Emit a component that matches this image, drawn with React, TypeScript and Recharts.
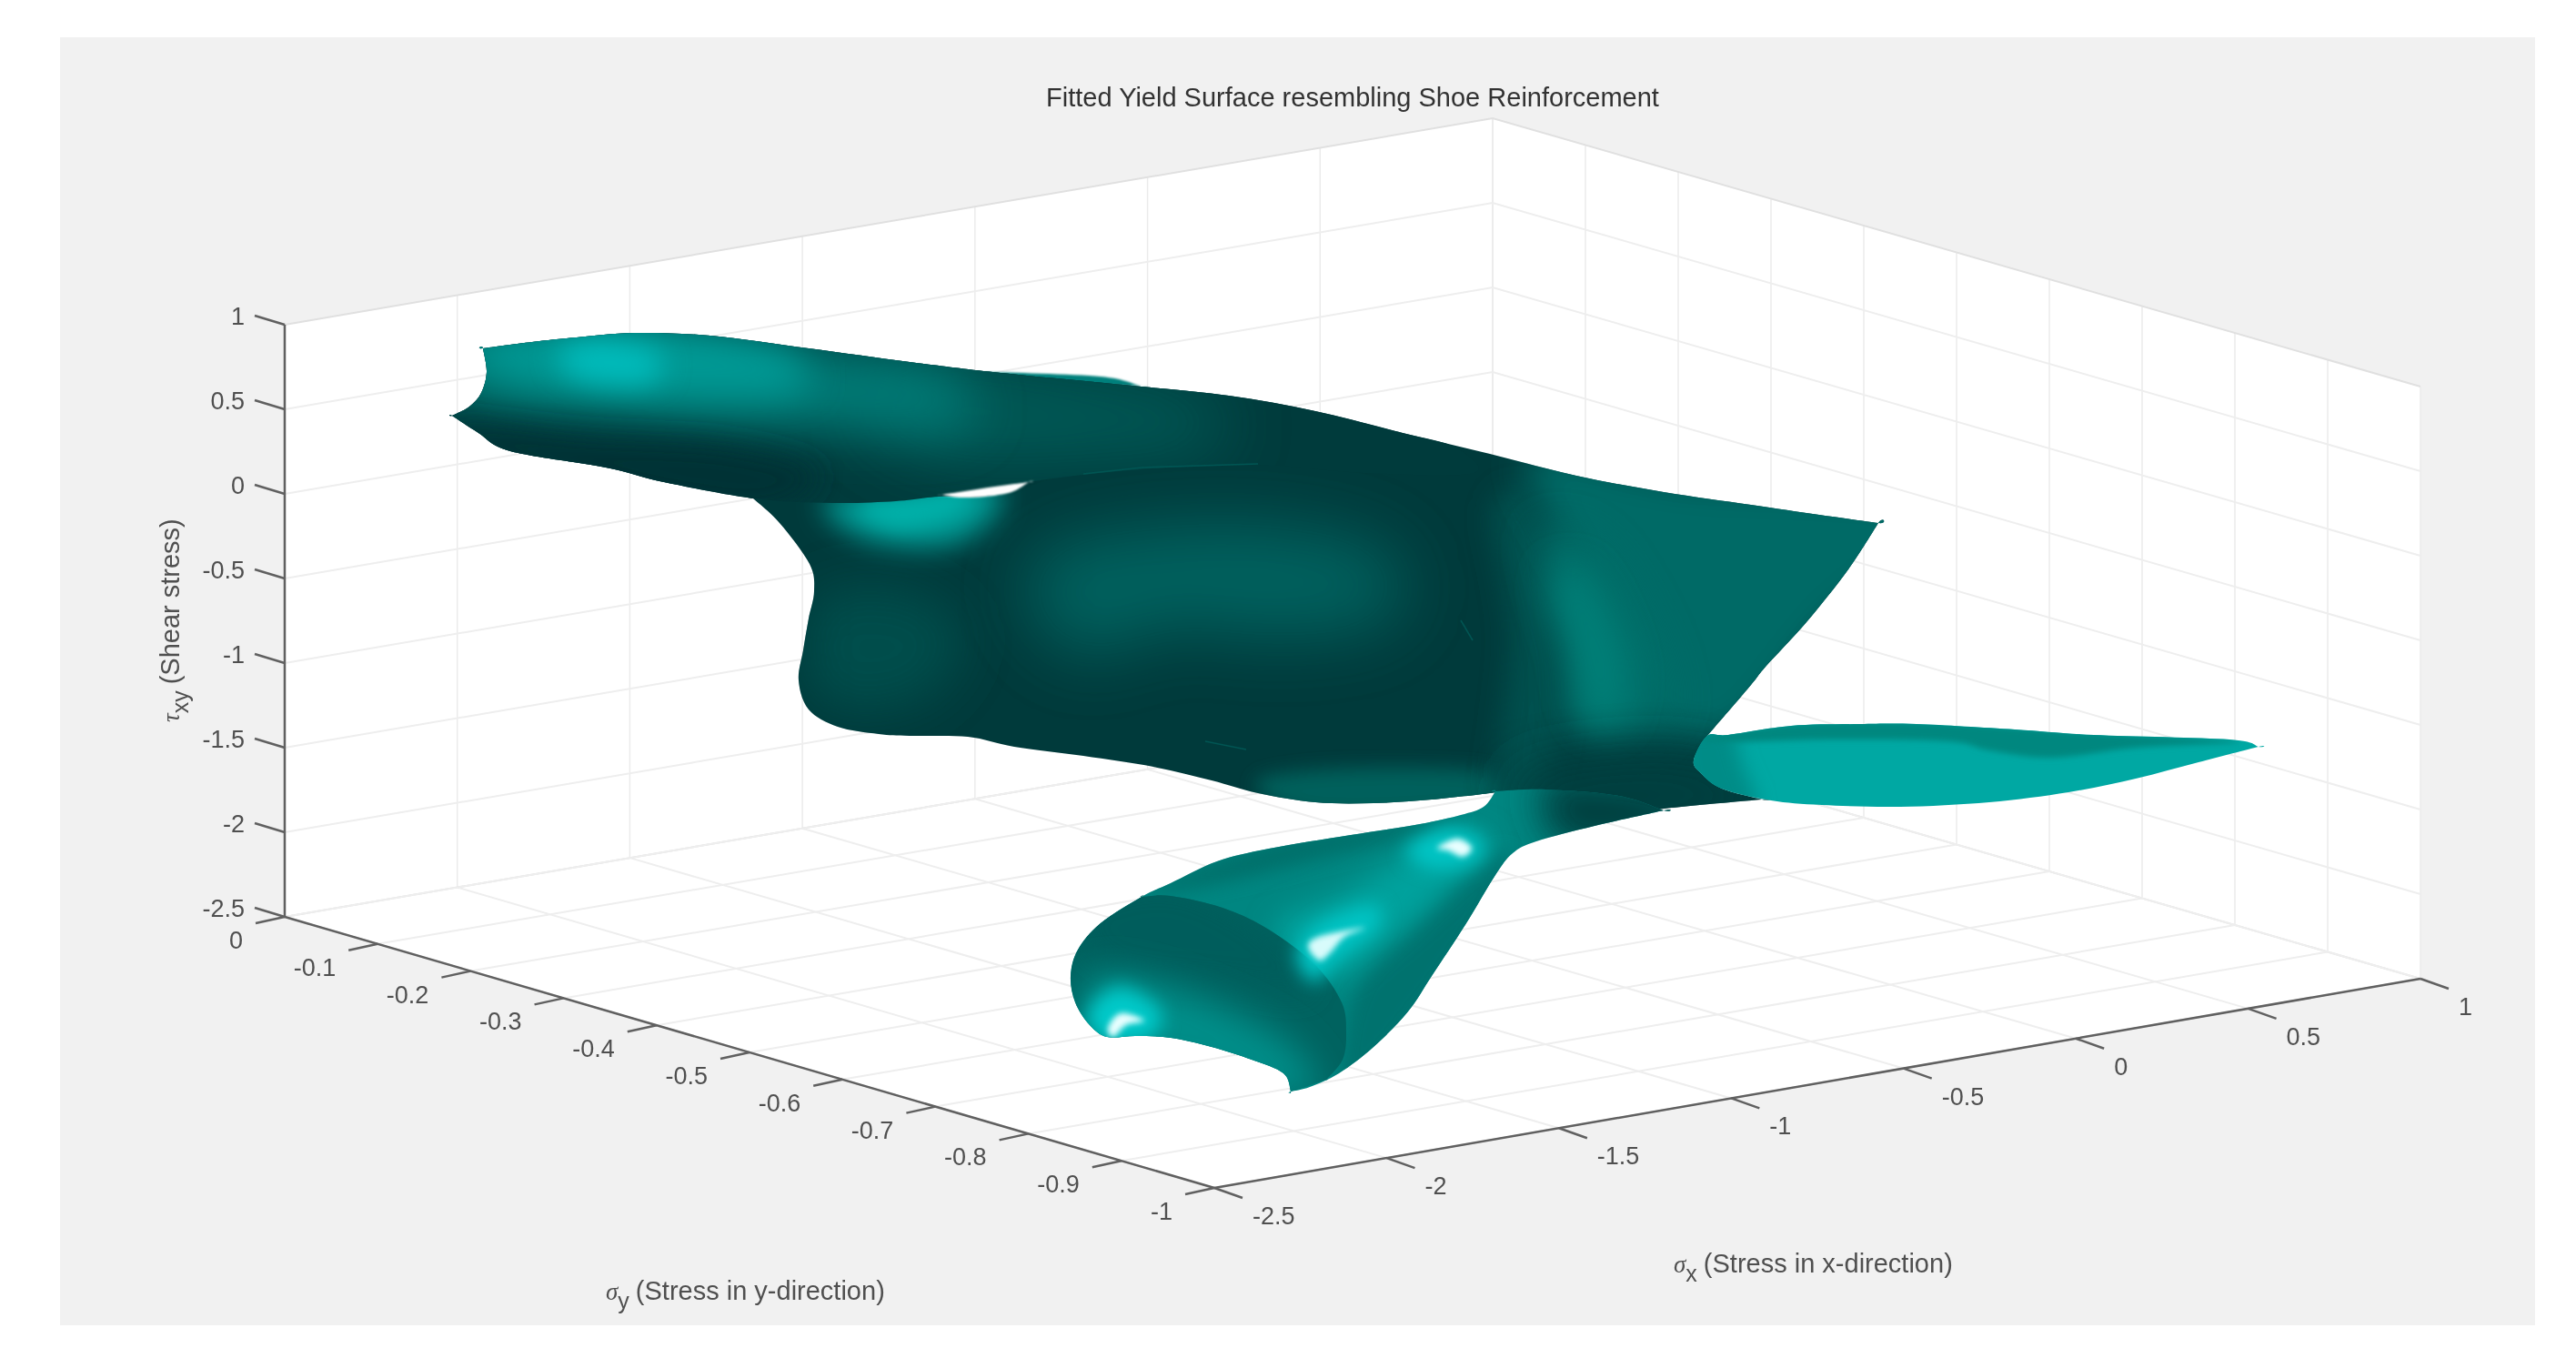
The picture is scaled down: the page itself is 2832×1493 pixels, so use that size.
import React from "react";
import { ScatterChart, Scatter, XAxis, YAxis } from "recharts";

// axis ticks as they read on the figure
const xTicks = [-2.5, -2, -1.5, -1, -0.5, 0, 0.5, 1];
const yTicks = [0, -0.1, -0.2, -0.3, -0.4, -0.5, -0.6, -0.7, -0.8, -0.9, -1];
const zTicks = [1, 0.5, 0, -0.5, -1, -1.5, -2, -2.5];

// the 3D box seen on the picture plane: floor corners, height of one tau unit
const floorLeft = [313, 1008];
const floorBack = [1641, 781];
const floorFront = [1335, 1306];
const floorRight = [2661, 1076];
const tauUnit = 186;

const mainOutline = [
  [531, 383], [531, 383], [585, 376], [634, 371], [698, 366], [781, 369], [889, 383], [1000, 398], [1100, 410], [1255, 425],
  [1351, 435], [1446, 452], [1542, 476], [1638, 499], [1733, 523], [1829, 541], [1925, 555], [2000, 566], [2065, 575], [2065, 575],
  [2032, 626], [1986, 684], [1941, 733], [1925, 753], [1877, 809], [1877, 809], [1862, 836], [1870, 850], [1893, 867], [1937, 879], [1937, 879],
  [1829, 889], [1760, 900], [1700, 905], [1670, 890], [1650, 875], [1644, 870], [1644, 870],
  [1638, 872], [1574, 879], [1510, 883], [1446, 882], [1383, 872], [1332, 858], [1268, 843], [1191, 831], [1115, 821], [1064, 810],
  [1000, 809], [966, 807], [921, 799], [889, 780], [878, 748], [883, 715], [889, 680], [895, 650], [890, 620], [857, 575], [828, 548], [828, 548],
  [730, 530], [666, 514], [561, 496], [526, 476], [497, 457], [497, 457], [516, 447], [529, 432], [535, 409],
];
const lobeOutline = [
  [531, 383], [531, 383], [585, 376], [634, 371], [698, 366], [781, 369], [889, 383], [1000, 398], [1100, 410], [1255, 425],
  [1351, 435], [1446, 452], [1542, 476], [1600, 492], [1620, 520], [1500, 520], [1383, 511], [1255, 516], [1131, 530], [1085, 545],
  [1032, 546], [985, 551], [915, 553], [828, 548], [730, 530], [666, 514], [561, 496], [526, 476], [497, 457], [497, 457],
  [516, 447], [529, 432], [535, 409],
];
const backBand = [[1083, 411], [1083, 409], [1210, 414], [1255, 425], [1255, 425], [1190, 422], [1120, 416]];
const slit = [[1035, 544], [1035, 544], [1080, 537], [1131, 530], [1131, 530], [1112, 541], [1083, 546], [1055, 547]];
const wingOutline = [
  [1862, 836], [1877, 809], [1900, 808], [1969, 798], [2044, 796], [2107, 796], [2215, 802], [2302, 808], [2451, 813], [2483, 821], [2483, 821],
  [2417, 838], [2348, 856], [2274, 871], [2187, 882], [2089, 887], [2003, 885], [1947, 880], [1893, 867], [1870, 850],
];
const wingBand = [
  [1870, 812], [1969, 796], [2107, 794], [2302, 806], [2462, 815], [2348, 822], [2256, 833], [2187, 825], [2142, 815], [2015, 813], [1900, 816],
];
const wingLeft = [[1850, 800], [1900, 800], [1915, 840], [1930, 890], [1860, 880]];
const bulbOutline = [
  [1255, 986], [1287, 971], [1338, 947], [1395, 933], [1485, 918], [1561, 906], [1606, 896], [1631, 887], [1644, 870], [1644, 870],
  [1700, 868], [1780, 875], [1829, 891], [1829, 891], [1753, 908], [1689, 925], [1663, 938], [1644, 962], [1612, 1015], [1574, 1073], [1548, 1112], [1510, 1151],
  [1472, 1180], [1440, 1195], [1419, 1200], [1419, 1200], [1411, 1180], [1376, 1165], [1332, 1151], [1287, 1141], [1249, 1139], [1217, 1140],
  [1198, 1127], [1182, 1102], [1177, 1073], [1185, 1044], [1210, 1015],
];
const bulbFace = [
  [1255, 986], [1255, 986], [1287, 985], [1344, 998], [1395, 1022], [1446, 1061], [1475, 1102], [1480, 1136], [1476, 1165], [1458, 1187], [1458, 1187],
  [1419, 1200], [1419, 1200], [1411, 1180], [1376, 1165], [1332, 1151], [1287, 1141], [1249, 1139], [1217, 1140],
  [1198, 1127], [1182, 1102], [1177, 1073], [1185, 1044], [1210, 1015],
];

// shading patches on the body
const bodyGlowMiddle = [[1160, 600], [1350, 575], [1520, 605], [1530, 680], [1400, 700], [1290, 690], [1190, 720], [1130, 660]];
const bodyGlowLeft = [[895, 660], [1000, 650], [1060, 700], [1010, 770], [900, 770]];
const bodyHighlight = [[905, 550], [1000, 535], [1090, 528], [1095, 565], [1040, 600], [950, 592]];
const bodyHighlightCore = [[945, 555], [1010, 545], [1065, 538], [1050, 565], [985, 580]];
const bodyFoot = [[1380, 860], [1480, 845], [1640, 850], [1640, 885], [1450, 895]];
const frontEdge = [[1640, 560], [1690, 560], [1715, 780], [1690, 880], [1645, 870], [1660, 700]];
const stripeOuter = [[1690, 590], [1760, 600], [1830, 720], [1830, 800], [1730, 810], [1720, 720]];
const stripeCore = [[1705, 640], [1740, 630], [1785, 720], [1780, 790], [1745, 790], [1725, 710]];
const sheetRight = [[1680, 500], [1850, 525], [2130, 555], [2010, 690], [1900, 810], [1800, 780], [1740, 640]];
const neckShade = [[1680, 850], [1860, 835], [1940, 890], [1760, 920], [1680, 900]];

// shading patches on the upper lobe
const lobeMid = [[1000, 395], [1200, 415], [1330, 440], [1340, 490], [1200, 505], [1040, 505], [950, 460]];
const lobeTeal = [[490, 375], [700, 362], [900, 380], [1040, 410], [1060, 470], [850, 470], [640, 455], [500, 440]];
const lobeBright = [[510, 375], [700, 360], [860, 385], [880, 430], [740, 435], [570, 420]];
const lobeHighlight = [[615, 385], [665, 375], [725, 390], [715, 420], [655, 420], [625, 410]];
const lobeDark = [[500, 465], [640, 480], [800, 490], [900, 520], [830, 560], [650, 530], [520, 495]];

// shading patches on the bulb
const skinRidge = [[1400, 1020], [1480, 980], [1590, 920], [1640, 925], [1600, 970], [1520, 1040], [1460, 1075]];
const skinTop = [[1255, 980], [1400, 925], [1560, 900], [1600, 905], [1430, 950], [1320, 975]];
const skinLower = [[1490, 1090], [1560, 1010], [1640, 940], [1660, 960], [1580, 1090], [1480, 1200]];
const neckDark = [[1710, 855], [1850, 870], [1850, 920], [1730, 930], [1695, 895]];
const faceTop = [[1190, 1000], [1290, 975], [1400, 1030], [1440, 1090], [1350, 1080], [1220, 1060]];
const faceLight = [[1200, 1075], [1300, 1090], [1420, 1150], [1440, 1210], [1300, 1170], [1200, 1150]];
const haloLeft = [[1195, 1115], [1230, 1085], [1275, 1110], [1265, 1140], [1215, 1145]];
const coreLeft = [[1218, 1130], [1232, 1114], [1258, 1122], [1238, 1127], [1224, 1140]];
const haloMiddle = [[1425, 1050], [1450, 1015], [1510, 995], [1515, 1020], [1470, 1055], [1445, 1080]];
const coreMiddle = [[1438, 1040], [1452, 1029], [1500, 1020], [1478, 1030], [1462, 1048], [1450, 1056]];
const haloNeck = [[1545, 935], [1590, 910], [1630, 925], [1620, 948], [1575, 955]];
const coreNeck = [[1580, 932], [1602, 922], [1618, 932], [1608, 942], [1592, 935]];
const creases = [
  [[1191, 521], [1255, 514], [1383, 510]],
  [[1606, 682], [1619, 704]],
  [[1325, 815], [1370, 824]],
];

const blurLevels = [1, 3, 6, 10, 15, 20, 28, 38];
const tickColor = "#505050";
const gridColor = "#eeeeee";
const wallColor = "#ebebeb";
const edgeColor = "#e0e0e0";
const axisColor = "#606060";

const lerp = (a: number, b: number, t: number) => a + (b - a) * t;

// sigma_x, sigma_y, tau_xy to the picture plane
function project(x: number, y: number, z: number) {
  const u = (x + 2.5) / 3.5;
  const v = -y;
  const near = [lerp(floorLeft[0], floorFront[0], v), lerp(floorLeft[1], floorFront[1], v)];
  const far = [lerp(floorBack[0], floorRight[0], v), lerp(floorBack[1], floorRight[1], v)];
  return { px: lerp(near[0], far[0], u), py: lerp(near[1], far[1], u) - (z + 2.5) * tauUnit };
}

const asPoints = (pts: number[][]) => pts.map(([px, py]) => ({ px, py }));

// Catmull-Rom through the outline, closed
function smoothPath(points: { x: number; y: number }[]) {
  const n = points.length;
  let d = `M${points[0].x},${points[0].y}`;
  for (let i = 0; i < n; i++) {
    const p0 = points[(i - 1 + n) % n];
    const p1 = points[i];
    const p2 = points[(i + 1) % n];
    const p3 = points[(i + 2) % n];
    const c1x = p1.x + (p2.x - p0.x) / 6;
    const c1y = p1.y + (p2.y - p0.y) / 6;
    const c2x = p2.x - (p3.x - p1.x) / 6;
    const c2y = p2.y - (p3.y - p1.y) / 6;
    d += `C${c1x},${c1y} ${c2x},${c2y} ${p2.x},${p2.y}`;
  }
  return d + "Z";
}

const noSymbol = () => <g />;

function shape(key: string, pts: any[], style: any) {
  return (
    <Scatter
      key={key}
      data={pts}
      dataKey="py"
      shape={noSymbol}
      isAnimationActive={false}
      line={(p: any) => <path d={smoothPath(p.points)} stroke="none" {...style} />}
    />
  );
}

// flat polygon for the panel and the faces of the box
function face(key: string, pts: any[], fill: string) {
  return (
    <Scatter
      key={key}
      data={pts}
      dataKey="py"
      shape={noSymbol}
      isAnimationActive={false}
      line={(p: any) => <polygon points={p.points.map((q: any) => `${q.x},${q.y}`).join(" ")} fill={fill} stroke="none" />}
    />
  );
}

function clipOf(key: string, id: string, pts: number[][]) {
  return (
    <Scatter
      key={key}
      data={asPoints(pts)}
      dataKey="py"
      shape={noSymbol}
      isAnimationActive={false}
      line={(p: any) => (
        <clipPath id={id}>
          <path d={smoothPath(p.points)} />
        </clipPath>
      )}
    />
  );
}

function segment(key: string, pts: any[], stroke: string, strokeWidth: number) {
  return (
    <Scatter
      key={key}
      data={pts}
      dataKey="py"
      shape={noSymbol}
      isAnimationActive={false}
      lineJointType="linear"
      line={{ stroke, strokeWidth, filter: "url(#soft)" }}
    />
  );
}

function labels(key: string, pts: any[], anchor: string, color = tickColor, size = 27) {
  return (
    <Scatter
      key={key}
      data={pts}
      dataKey="py"
      isAnimationActive={false}
      shape={(p: any) => (
        <text x={p.cx} y={p.cy} textAnchor={anchor} dominantBaseline="central" fontFamily="Liberation Sans" fontSize={size} fill={color} filter="url(#soft)">
          {p.payload.label}
        </text>
      )}
    />
  );
}

function patch(key: string, pts: number[][], fill: string, blur: number, clip?: string) {
  return shape(key, asPoints(pts), {
    fill,
    filter: blur ? `url(#blur-${blur})` : undefined,
    clipPath: clip ? `url(#${clip})` : undefined,
  });
}

function axisTitle(key: string, px: number, py: number, symbol: string, sub: string, rest: string, rotate = false) {
  return (
    <Scatter
      key={key}
      data={[{ px, py }]}
      dataKey="py"
      isAnimationActive={false}
      shape={(p: any) => (
        <text
          x={p.cx}
          y={p.cy}
          fontFamily="Liberation Sans"
          fontSize={29}
          fill={tickColor}
          filter="url(#soft)"
          transform={rotate ? `rotate(-90 ${p.cx} ${p.cy})` : undefined}
        >
          <tspan fontSize={27} fontStyle="italic" fontFamily="Liberation Serif">{symbol}</tspan>
          <tspan dy={10} fontSize={25}>{sub}</tspan>
          <tspan dy={-10} dx={7}>{rest}</tspan>
        </text>
      )}
    />
  );
}

export default function App() {
  const grid: any[] = [];
  xTicks.forEach((x, i) => {
    const edge = i === 0 || i === xTicks.length - 1;
    grid.push(segment(`floor-x-${i}`, [project(x, 0, -2.5), project(x, -1, -2.5)], edge ? edgeColor : gridColor, 2));
    grid.push(segment(`wall-x-${i}`, [project(x, 0, -2.5), project(x, 0, 1)], wallColor, 1.5));
  });
  yTicks.forEach((y, i) => {
    const edge = i === 0 || i === yTicks.length - 1;
    grid.push(segment(`floor-y-${i}`, [project(-2.5, y, -2.5), project(1, y, -2.5)], edge ? edgeColor : gridColor, 2));
    grid.push(segment(`wall-y-${i}`, [project(1, y, -2.5), project(1, y, 1)], wallColor, 1.5));
  });
  zTicks.forEach((z, i) => {
    grid.push(segment(`wall-z-${i}`, [project(-2.5, 0, z), project(1, 0, z), project(1, -1, z)], i === 0 ? edgeColor : gridColor, 2));
  });

  const axes = [
    segment("axis-z", [project(-2.5, 0, -2.5), project(-2.5, 0, 1)], axisColor, 2.5),
    segment("axis-y", [project(-2.5, 0, -2.5), project(-2.5, -1, -2.5)], axisColor, 2.5),
    segment("axis-x", [project(-2.5, -1, -2.5), project(1, -1, -2.5)], axisColor, 2.5),
    ...zTicks.map((z, i) => {
      const a = project(-2.5, 0, z);
      return segment(`tick-z-${i}`, [a, { px: a.px - 33, py: a.py - 10 }], axisColor, 2.5);
    }),
    ...yTicks.map((y, i) => {
      const a = project(-2.5, y, -2.5);
      return segment(`tick-y-${i}`, [a, { px: a.px - 32, py: a.py + 7 }], axisColor, 2.5);
    }),
    ...xTicks.map((x, i) => {
      const a = project(x, -1, -2.5);
      return segment(`tick-x-${i}`, [a, { px: a.px + 31, py: a.py + 11 }], axisColor, 2.5);
    }),
    labels("labels-z", zTicks.map((z) => {
      const a = project(-2.5, 0, z);
      return { px: a.px - 44, py: a.py - 9, label: String(z) };
    }), "end"),
    labels("labels-y", yTicks.map((y) => {
      const a = project(-2.5, y, -2.5);
      return { px: a.px - 46, py: a.py + 26, label: String(y) };
    }), "end"),
    labels("labels-x", xTicks.map((x) => {
      const a = project(x, -1, -2.5);
      return { px: a.px + 42, py: a.py + 31, label: String(x) };
    }), "start"),
  ];

  return (
    <div style={{ width: 2832, height: 1493, background: "#fff", overflow: "hidden" }}>
      <style>{`html,body{margin:0;padding:0;background:#fff}`}</style>
      <ScatterChart width={2832} height={1493} margin={{ top: 0, right: 0, bottom: 0, left: 0 }}>
        <defs>
          <filter id="soft" filterUnits="userSpaceOnUse" x={0} y={0} width={2832} height={1493}>
            <feGaussianBlur stdDeviation={0.7} />
          </filter>
          {blurLevels.map((b) => (
            <filter key={b} id={`blur-${b}`} filterUnits="userSpaceOnUse" x={0} y={0} width={2832} height={1493}>
              <feGaussianBlur stdDeviation={b} />
            </filter>
          ))}
        </defs>
        <XAxis type="number" dataKey="px" domain={[0, 2832]} hide allowDataOverflow />
        <YAxis type="number" dataKey="py" domain={[0, 1493]} reversed hide allowDataOverflow />

        {/* figure panel and white box faces */}
        {face("panel", [{ px: 66, py: 41 }, { px: 2787, py: 41 }, { px: 2787, py: 1457 }, { px: 66, py: 1457 }], "#f1f1f1")}
        {face("wall-left", [project(-2.5, 0, -2.5), project(1, 0, -2.5), project(1, 0, 1), project(-2.5, 0, 1)], "#fff")}
        {face("wall-right", [project(1, 0, -2.5), project(1, -1, -2.5), project(1, -1, 1), project(1, 0, 1)], "#fff")}
        {face("floor", [project(-2.5, 0, -2.5), project(1, 0, -2.5), project(1, -1, -2.5), project(-2.5, -1, -2.5)], "#fff")}
        {grid}
        {axes}

        {labels("title", [{ px: 1487, py: 107, label: "Fitted Yield Surface resembling Shoe Reinforcement" }], "middle", "#333333", 29)}
        {axisTitle("title-y", 666, 1429, "σ", "y", "(Stress in y-direction)")}
        {axisTitle("title-x", 1840, 1399, "σ", "x", "(Stress in x-direction)")}
        {axisTitle("title-z", 197, 794, "τ", "xy", "(Shear stress)", true)}

        {/* clip outlines */}
        {clipOf("clip-main", "clip-main", mainOutline)}
        {clipOf("clip-lobe", "clip-lobe", lobeOutline)}
        {clipOf("clip-bulb", "clip-bulb", bulbOutline)}
        {clipOf("clip-face", "clip-face", bulbFace)}
        {clipOf("clip-wing", "clip-wing", wingOutline)}

        {/* body, back to front */}
        {patch("back-band", backBand, "#00807c", 1)}
        {patch("main", mainOutline, "#003a3b", 0)}
        {patch("body-glow-left", bodyGlowLeft, "#004d4c", 28, "clip-main")}
        {patch("body-glow-mid", bodyGlowMiddle, "#00625e", 38, "clip-main")}
        {patch("body-highlight", bodyHighlight, "#009a94", 15, "clip-main")}
        {patch("body-highlight-core", bodyHighlightCore, "#00b0a9", 10, "clip-main")}
        {patch("body-foot", bodyFoot, "#00605c", 10, "clip-main")}

        {/* upper lobe */}
        {patch("lobe", lobeOutline, "#003b3c", 0)}
        {patch("lobe-mid", lobeMid, "#005a57", 38, "clip-lobe")}
        {patch("lobe-teal", lobeTeal, "#007a76", 28, "clip-lobe")}
        {patch("lobe-bright", lobeBright, "#009a95", 20, "clip-lobe")}
        {patch("lobe-highlight", lobeHighlight, "#00bcbc", 15, "clip-lobe")}
        {patch("lobe-dark", lobeDark, "#003034", 15, "clip-lobe")}

        {/* right sheet and the stripe where it folds */}
        {patch("front-edge", frontEdge, "#00504d", 15, "clip-main")}
        {patch("sheet-right", sheetRight, "#006a66", 20, "clip-main")}
        {patch("stripe-outer", stripeOuter, "#006d67", 20, "clip-main")}
        {patch("stripe-core", stripeCore, "#008078", 20, "clip-main")}
        {patch("neck-shade", neckShade, "#00403f", 28, "clip-main")}
        {patch("slit", slit, "#ffffff", 1)}
        {creases.map((c, i) =>
          segment(`crease-${i}`, asPoints(c), "#005553", 1.5)
        )}

        {/* wing */}
        {patch("wing", wingOutline, "#00a8a3", 0)}
        {patch("wing-left", wingLeft, "#008c87", 10, "clip-wing")}
        {patch("wing-band", wingBand, "#00877f", 3, "clip-wing")}

        {/* bulb */}
        {patch("bulb", bulbOutline, "#008681", 0)}
        {patch("skin-top", skinTop, "#006f6b", 10, "clip-bulb")}
        {patch("skin-lower", skinLower, "#00726e", 10, "clip-bulb")}
        {patch("skin-ridge", skinRidge, "#00a29d", 15, "clip-bulb")}
        {patch("neck-dark", neckDark, "#00403f", 20, "clip-bulb")}
        {patch("face", bulbFace, "#00625f", 0, "clip-bulb")}
        {patch("face-top", faceTop, "#005d5b", 15, "clip-face")}
        {patch("face-light", faceLight, "#008f8a", 20, "clip-face")}
        {patch("halo-left", haloLeft, "#00c9c9", 10, "clip-bulb")}
        {patch("core-left", coreLeft, "#e8ffff", 3, "clip-bulb")}
        {patch("halo-mid", haloMiddle, "#00c5c5", 10, "clip-bulb")}
        {patch("core-mid", coreMiddle, "#d8fbfb", 3, "clip-bulb")}
        {patch("halo-neck", haloNeck, "#00c5c5", 10, "clip-bulb")}
        {patch("core-neck", coreNeck, "#e8ffff", 3, "clip-bulb")}
      </ScatterChart>
    </div>
  );
}
